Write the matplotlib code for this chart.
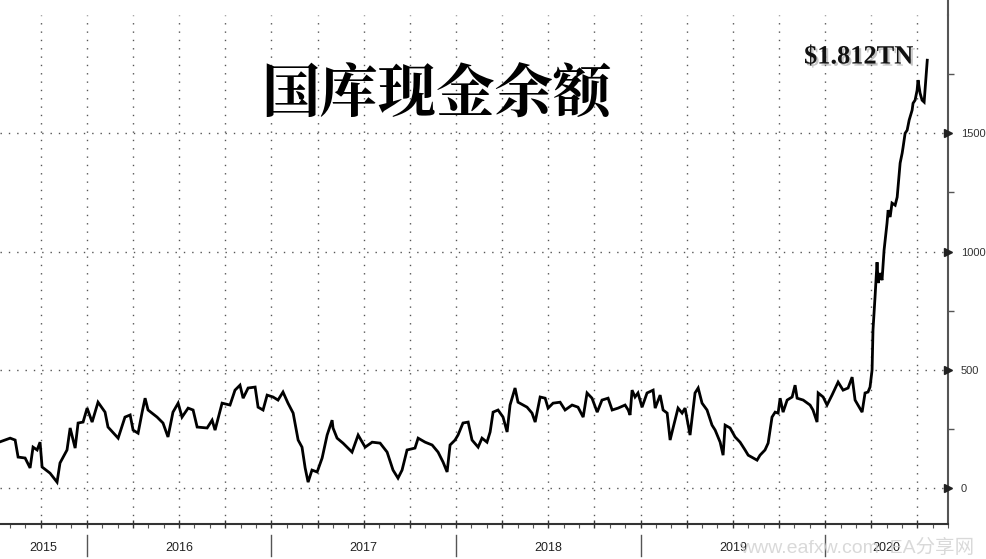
import matplotlib
matplotlib.use("Agg")
import matplotlib.pyplot as plt
import matplotlib.patheffects as pe
from matplotlib.lines import Line2D
import numpy as np

plt.rcParams['font.family'] = ['Liberation Sans', 'Noto Sans CJK SC', 'DejaVu Sans']

# Decimal-year positions and treasury cash balance ($bn)
years = [
    2015.532, 2015.585, 2015.612, 2015.628, 2015.666, 2015.693, 2015.709, 2015.731, 2015.747, 2015.758,
    2015.801, 2015.839, 2015.855, 2015.893, 2015.910, 2015.937, 2015.953, 2015.980, 2016.002, 2016.029,
    2016.061, 2016.099, 2016.115, 2016.170, 2016.207, 2016.235, 2016.251, 2016.278, 2016.300, 2016.316,
    2016.332, 2016.381, 2016.413, 2016.440, 2016.467, 2016.495, 2016.516, 2016.549, 2016.576, 2016.598,
    2016.652, 2016.679, 2016.695, 2016.733, 2016.776, 2016.803, 2016.830, 2016.847, 2016.874, 2016.912,
    2016.928, 2016.955, 2016.977, 2017.009, 2017.036, 2017.063, 2017.090, 2017.118, 2017.145, 2017.166,
    2017.183, 2017.199, 2017.220, 2017.248, 2017.275, 2017.302, 2017.329, 2017.334, 2017.356, 2017.388,
    2017.437, 2017.470, 2017.508, 2017.546, 2017.589, 2017.627, 2017.659, 2017.686, 2017.708, 2017.735,
    2017.778, 2017.795, 2017.833, 2017.871, 2017.903, 2017.930, 2017.952, 2017.968, 2017.995, 2018.011,
    2018.038, 2018.066, 2018.087, 2018.120, 2018.141, 2018.168, 2018.185, 2018.201, 2018.228, 2018.255,
    2018.277, 2018.293, 2018.320, 2018.336, 2018.385, 2018.412, 2018.429, 2018.456, 2018.483, 2018.499,
    2018.526, 2018.564, 2018.591, 2018.629, 2018.661, 2018.689, 2018.710, 2018.737, 2018.765, 2018.791,
    2018.824, 2018.846, 2018.878, 2018.916, 2018.933, 2018.943, 2018.954, 2018.970, 2018.986, 2019.008,
    2019.035, 2019.068, 2019.079, 2019.106, 2019.122, 2019.144, 2019.160, 2019.176, 2019.203, 2019.225,
    2019.241, 2019.258, 2019.268, 2019.295, 2019.312, 2019.333, 2019.360, 2019.387, 2019.404, 2019.431,
    2019.447, 2019.458, 2019.485, 2019.512, 2019.539, 2019.566, 2019.583, 2019.610, 2019.631, 2019.647,
    2019.674, 2019.691, 2019.712, 2019.729, 2019.745, 2019.756, 2019.772, 2019.794, 2019.821, 2019.837,
    2019.848, 2019.881, 2019.918, 2019.934, 2019.956, 2019.962, 2019.989, 2020.010, 2020.037, 2020.070,
    2020.097, 2020.124, 2020.146, 2020.162, 2020.200, 2020.216, 2020.232, 2020.243, 2020.254, 2020.259,
    2020.270, 2020.276, 2020.281, 2020.287, 2020.297, 2020.308, 2020.314, 2020.319, 2020.335, 2020.341,
    2020.352, 2020.362, 2020.379, 2020.390, 2020.406, 2020.417, 2020.422, 2020.433, 2020.444, 2020.455,
    2020.471, 2020.476, 2020.487, 2020.498, 2020.503, 2020.514, 2020.525, 2020.536, 2020.542, 2020.553,
]
cash_bn = [
    196, 211, 203, 131, 127, 85, 173, 161, 194, 89,
    63, 25, 106, 161, 254, 169, 275, 279, 338, 279,
    363, 321, 258, 211, 300, 309, 245, 232, 321, 380,
    330, 300, 275, 216, 321, 359, 300, 338, 330, 258,
    254, 287, 245, 359, 351, 414, 435, 380, 423, 427,
    342, 330, 393, 385, 372, 406, 359, 317, 203, 173,
    85, 25, 76, 68, 127, 224, 287, 254, 211, 190,
    152, 224, 173, 194, 190, 152, 76, 42, 76, 161,
    169, 211, 194, 182, 152, 110, 68, 182, 203, 224,
    275, 279, 203, 173, 211, 194, 237, 321, 330, 300,
    237, 351, 423, 363, 342, 317, 279, 385, 380, 338,
    359, 363, 330, 351, 342, 300, 402, 380, 321, 372,
    380, 330, 338, 351, 330, 309, 414, 385, 402, 342,
    402, 414, 338, 393, 330, 317, 203, 254, 338, 317,
    338, 266, 224, 402, 423, 359, 330, 266, 245, 194,
    139, 266, 254, 216, 194, 161, 139, 127, 118, 139,
    161, 190, 300, 321, 317, 380, 321, 372, 385, 435,
    380, 372, 351, 330, 279, 402, 385, 351, 393, 448,
    414, 423, 469, 372, 321, 402, 406, 427, 499, 668,
    807, 892, 955, 867, 909, 879, 951, 1006, 1120, 1175,
    1146, 1205, 1196, 1230, 1374, 1416, 1441, 1500, 1513, 1556,
    1598, 1627, 1640, 1682, 1725, 1670, 1640, 1632, 1695, 1809,
]

y_ticks = [0, 500, 1000, 1500]
y_minor = [250, 750, 1250, 1750]
year_labels = ['2015', '2016', '2017', '2018', '2019', '2020']
year_starts = [2016, 2017, 2018, 2019, 2020]
title = '国库现金余额'
last_label = '$1.812TN'
watermark = 'www.eafxw.com  EA分享网'

x_min, x_max = 2015.530, 2020.667
y_min, y_max = -152, 2000

fig = plt.figure(figsize=(9.87, 5.59), dpi=100)
ax_pos = [0.0, 0.0626, 0.9608, 0.9105]
ax = fig.add_axes(ax_pos)
ax.set_xlim(x_min, x_max)
ax.set_ylim(y_min, y_max)

# grid
quarters = np.arange(2015.75, 2020.6, 0.25)
for q in quarters:
    ax.axvline(q, color='#555555', lw=1.0, ls=(0, (1, 5)), zorder=1)
for yv in y_ticks:
    ax.axhline(yv, color='#555555', lw=1.0, ls=(0, (1, 5)), zorder=1)

ax.plot(years, cash_bn, color='black', lw=2.0, zorder=3, solid_joinstyle='miter')

# spines
for s in ['left', 'top']:
    ax.spines[s].set_visible(False)
ax.spines['right'].set_color('#555555')
ax.spines['right'].set_linewidth(1.5)
ax.spines['bottom'].set_color('#333333')
ax.spines['bottom'].set_linewidth(1.5)
# right spine continues to the top edge of the figure
top = ax_pos[1] + ax_pos[3]
fig.add_artist(Line2D([ax_pos[2], ax_pos[2]], [top, 1.0], transform=fig.transFigure,
                      color='#555555', lw=1.5))

# y axis on the right
ax.yaxis.tick_right()
ax.set_yticks(y_ticks)
ax.set_yticklabels([str(v) for v in y_ticks])
ax.set_yticks(y_minor, minor=True)
ax.tick_params(axis='y', which='major', length=0, pad=9, labelsize=8, labelcolor='#333333')
ax.tick_params(axis='y', which='minor', length=4, width=1, color='#555555', direction='out')
ax.plot([1.0] * len(y_ticks), y_ticks, marker='>', ls='none', ms=6, color='#222222',
        transform=ax.get_yaxis_transform(), clip_on=False, zorder=5)

# x axis ticks
ax.set_xticks(quarters)
ax.set_xticklabels([])
months = np.arange(2015 + 7 / 12, 2020.667, 1 / 12)
ax.set_xticks(months, minor=True)
ax.tick_params(axis='x', which='major', length=6, width=1, color='#333333', direction='inout')
ax.tick_params(axis='x', which='minor', length=3, width=0.8, color='#555555', direction='out')

# year labels and separators below the axis
trans = ax.get_xaxis_transform()
bounds = [x_min] + year_starts + [x_max]
for i, lab in enumerate(year_labels):
    lo, hi = bounds[i], bounds[i + 1]
    ax.text((lo + hi) / 2, -0.047, lab, transform=trans, ha='center', va='center',
            fontsize=9, color='#222222')
for ys in year_starts:
    ax.plot([ys, ys], [-0.022, -0.062], transform=trans, color='#555555', lw=1, clip_on=False)

# title and annotation
fig.text(0.442, 0.830, title, ha='center', va='center', fontsize=42, fontweight='black',
         family=['Noto Serif CJK SC', 'Noto Sans CJK SC', 'DejaVu Sans'], color='black')
fig.text(0.870, 0.898, last_label, ha='center', va='center', fontsize=19, fontweight='bold',
         family=['Liberation Serif', 'DejaVu Serif'], color='#111111',
         path_effects=[pe.withSimplePatchShadow(offset=(1.5, -1.5), shadow_rgbFace='#888888', alpha=0.5)])

fig.text(0.868, 0.020, watermark, ha='center', va='center', fontsize=14, color='#d0d0d0', alpha=0.8,
         family=['Liberation Sans', 'Noto Sans CJK SC'])

fig.savefig('out.png', dpi=100)
